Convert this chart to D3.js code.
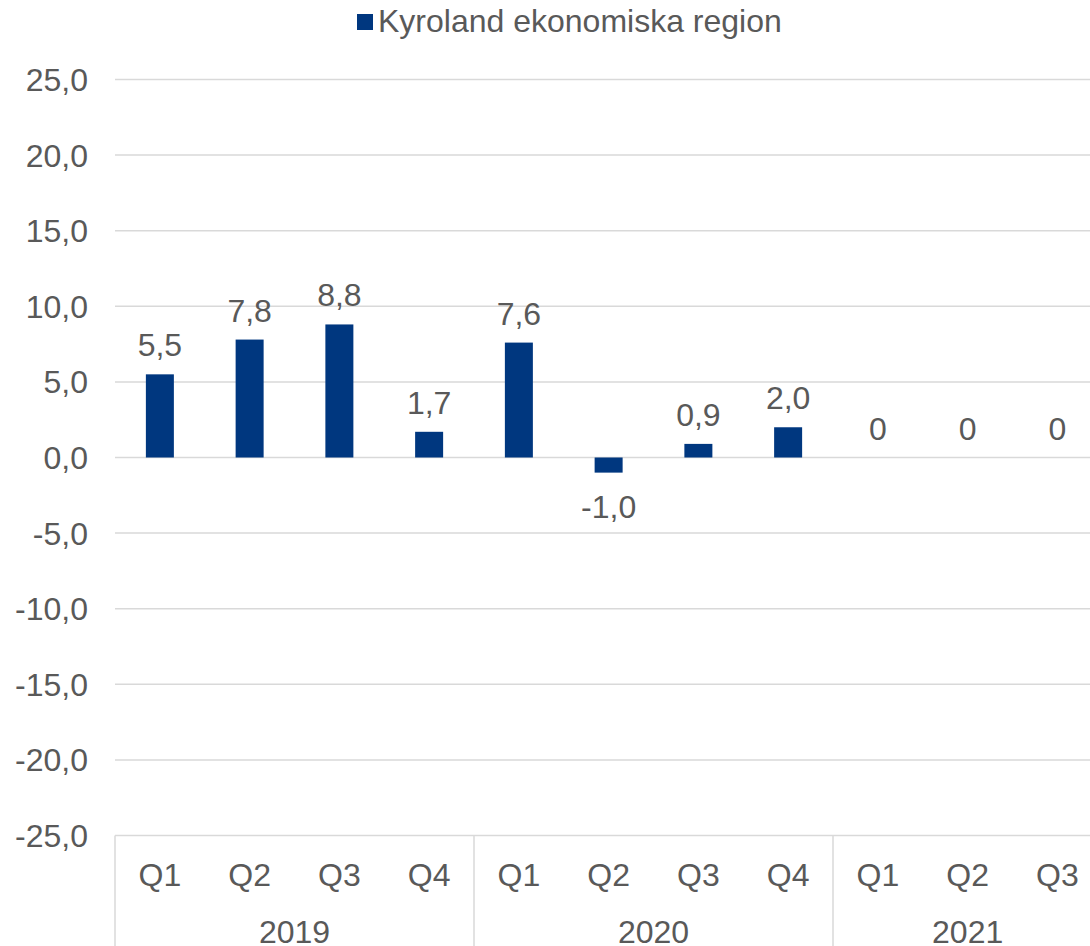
<!DOCTYPE html>
<html>
<head>
<meta charset="utf-8">
<script src="https://cdn.jsdelivr.net/npm/d3@7"></script>
<style>
  html, body { margin: 0; padding: 0; background: #fff; }
  svg { display: block; font-family: "Liberation Sans", Arial, sans-serif; }
</style>
</head>
<body>
<svg id="chart" width="1090" height="946"></svg>
<script>
const quarters = ["Q1","Q2","Q3","Q4","Q1","Q2","Q3","Q4","Q1","Q2","Q3"];
const years = ["2019","2020","2021"];
const yearSpans = [4, 4, 3];
const values = [5.5, 7.8, 8.8, 1.7, 7.6, -1.0, 0.9, 2.0, 0, 0, 0];
const labels = ["5,5","7,8","8,8","1,7","7,6","-1,0","0,9","2,0","0","0","0"];
const yTicks = [-25, -20, -15, -10, -5, 0, 5, 10, 15, 20, 25];
const seriesName = "Kyroland ekonomiska region";

const textColor = "#595959";
const gridColor = "#d9d9d9";
const barColor = "#00377f";
const fontSize = 32;

const svg = d3.select("#chart");
const plotLeft = 115, step = 89.75;
const plotRight = plotLeft + step * quarters.length;
const plotTop = 79.5, plotBottom = 835.5;

const x = d3.scaleBand().domain(d3.range(quarters.length)).range([plotLeft, plotRight]).padding(0);
const y = d3.scaleLinear().domain([-25, 25]).range([plotBottom, plotTop]);
const barW = 28;

// gridlines
svg.append("g").selectAll("line").data(yTicks).join("line")
  .attr("x1", plotLeft).attr("x2", plotRight)
  .attr("y1", d => y(d)).attr("y2", d => y(d))
  .attr("stroke", gridColor).attr("stroke-width", 1.5);

// y tick labels
svg.append("g").selectAll("text").data(yTicks).join("text")
  .attr("x", 88).attr("y", d => y(d)).attr("dy", "0.36em")
  .attr("text-anchor", "end").attr("fill", textColor).attr("font-size", fontSize)
  .text(d => d3.format(".1f")(d).replace(".", ",").replace("−", "-"));

// bars
svg.append("g").selectAll("rect").data(values).join("rect")
  .attr("x", (d, i) => x(i) + x.bandwidth() / 2 - barW / 2)
  .attr("width", barW)
  .attr("y", d => y(Math.max(0, d)))
  .attr("height", d => Math.abs(y(d) - y(0)))
  .attr("fill", barColor);

// data labels
svg.append("g").selectAll("text").data(values).join("text")
  .attr("x", (d, i) => x(i) + x.bandwidth() / 2)
  .attr("y", d => d < 0 ? y(d) + 45.5 : y(d) - 18)
  .attr("text-anchor", "middle").attr("fill", textColor).attr("font-size", fontSize)
  .text((d, i) => labels[i]);

// category axis: quarter labels
svg.append("g").selectAll("text").data(quarters).join("text")
  .attr("x", (d, i) => x(i) + x.bandwidth() / 2)
  .attr("y", 874).attr("dy", "0.36em")
  .attr("text-anchor", "middle").attr("fill", textColor).attr("font-size", fontSize)
  .text(d => d);

// year separators
const bounds = [0];
yearSpans.forEach((s, i) => bounds.push(bounds[i] + s));
svg.append("g").selectAll("line").data(bounds).join("line")
  .attr("x1", d => d < quarters.length ? x(d) : plotRight)
  .attr("x2", d => d < quarters.length ? x(d) : plotRight)
  .attr("y1", plotBottom).attr("y2", 946)
  .attr("stroke", gridColor).attr("stroke-width", 1.5);

// year labels
svg.append("g").selectAll("text").data(years).join("text")
  .attr("x", (d, i) => {
    const a = x(bounds[i]);
    const b = bounds[i + 1] < quarters.length ? x(bounds[i + 1]) : plotRight;
    return (a + b) / 2;
  })
  .attr("y", 931).attr("dy", "0.36em")
  .attr("text-anchor", "middle").attr("fill", textColor).attr("font-size", fontSize)
  .text(d => d);

// legend
const lg = svg.append("g");
lg.append("rect").attr("x", 357).attr("y", 14).attr("width", 16).attr("height", 16).attr("fill", barColor);
lg.append("text").attr("x", 378).attr("y", 20.5).attr("dy", "0.36em")
  .attr("fill", textColor).attr("font-size", fontSize).text(seriesName);
</script>
</body>
</html>
